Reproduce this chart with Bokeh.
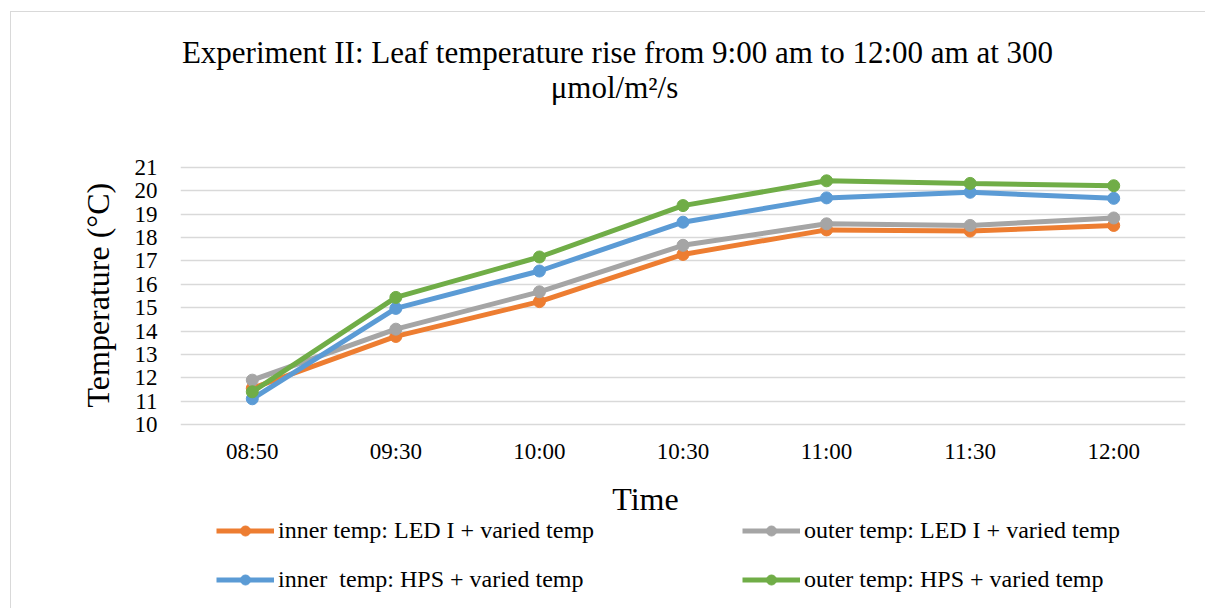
from bokeh.plotting import figure
from bokeh.models import Range1d, FactorRange, Legend, LegendItem, Title, Label, InlineStyleSheet
from bokeh.embed import file_html
from bokeh.resources import INLINE

times = ["08:50", "09:30", "10:00", "10:30", "11:00", "11:30", "12:00"]
inner_led = [11.55, 13.77, 15.26, 17.28, 18.33, 18.28, 18.52]
outer_led = [11.90, 14.08, 15.68, 17.67, 18.59, 18.52, 18.84]
inner_hps = [11.10, 14.97, 16.57, 18.66, 19.70, 19.94, 19.68]
outer_hps = [11.40, 15.44, 17.17, 19.37, 20.43, 20.32, 20.22]
y_ticks = list(range(10, 22))

series = [
    ("inner temp: LED I + varied temp", inner_led, "#ED7D31"),
    ("outer temp: LED I + varied temp", outer_led, "#A5A5A5"),
    ("inner  temp: HPS + varied temp", inner_hps, "#5B9BD5"),
    ("outer temp: HPS + varied temp", outer_hps, "#70AD47"),
]

FONT = "Liberation Serif"

# The frame spans the full canvas height; the areas above 21 and below 10 hold
# the chart title, the axis title and the legend (annotations are clipped to the frame).
p = figure(width=1205, height=608, x_range=FactorRange(*times), y_range=Range1d(2.125, 28.148),
           output_backend="svg", toolbar_location=None,
           min_border_left=180, min_border_right=20, min_border_top=0, min_border_bottom=0)
p.outline_line_color = None
p.background_fill_color = "white"
p.border_fill_color = "white"
p.stylesheets = [InlineStyleSheet(css=(
    ":host::after {content: ''; position: absolute; left: 10px; top: 11px; "
    "width: 1195px; height: 597px; box-sizing: border-box; "
    "border-left: 1.5px solid #d9d9d9; border-top: 1.5px solid #d9d9d9; pointer-events: none;}"))]

p.xgrid.grid_line_color = None
p.ygrid.grid_line_color = "#d9d9d9"
p.ygrid.grid_line_width = 1.3
p.yaxis.ticker = y_ticks
p.xaxis.fixed_location = 10

for ax in (p.xaxis, p.yaxis):
    ax.axis_line_color = None
    ax.major_tick_line_color = None
    ax.minor_tick_line_color = None
    ax.major_label_text_font = FONT
    ax.major_label_text_font_size = "23px"
    ax.major_label_text_color = "black"
p.xaxis.major_label_standoff = 8
p.yaxis.major_label_standoff = 17

items = []
for name, vals, col in series:
    l = p.line(times, vals, line_color=col, line_width=5)
    c = p.scatter(times, vals, size=12, fill_color=col, line_color=col)
    items.append(LegendItem(label=name, renderers=[l, c]))

# chart title (two lines)
p.add_layout(Label(x=437, y=556, x_units="screen", y_units="screen",
                   text="Experiment II: Leaf temperature rise from 9:00 am to 12:00 am at 300",
                   text_align="center", text_baseline="middle", text_font=FONT,
                   text_font_size="31px", text_color="black"))
p.add_layout(Label(x=434, y=521, x_units="screen", y_units="screen",
                   text="μmol/m²/s",
                   text_align="center", text_baseline="middle", text_font=FONT,
                   text_font_size="31px", text_color="black"))

# y axis title in the left panel
p.add_layout(Title(text="Temperature (°C)", align="left", offset=201, text_font=FONT,
                   text_font_size="32px", text_font_style="normal", text_color="black",
                   standoff=32), "left")

p.add_layout(Label(x=465, y=110, x_units="screen", y_units="screen", text="Time",
                   text_align="center", text_baseline="middle", text_font=FONT,
                   text_font_size="32px", text_color="black"))

for row, ypos in ((items[0:2], 64), (items[2:4], 15)):
    leg = Legend(items=row, orientation="horizontal", location=(36, ypos))
    leg.label_text_font = FONT
    leg.label_text_font_size = "24px"
    leg.label_text_color = "black"
    leg.glyph_width = 58
    leg.glyph_height = 25
    leg.label_height = 25
    leg.label_standoff = 4
    leg.label_width = 464
    leg.spacing = 0
    leg.padding = 0
    leg.margin = 0
    leg.border_line_color = None
    leg.background_fill_alpha = 0
    p.add_layout(leg, "center")

open("out.html", "w").write(file_html(p, INLINE))
